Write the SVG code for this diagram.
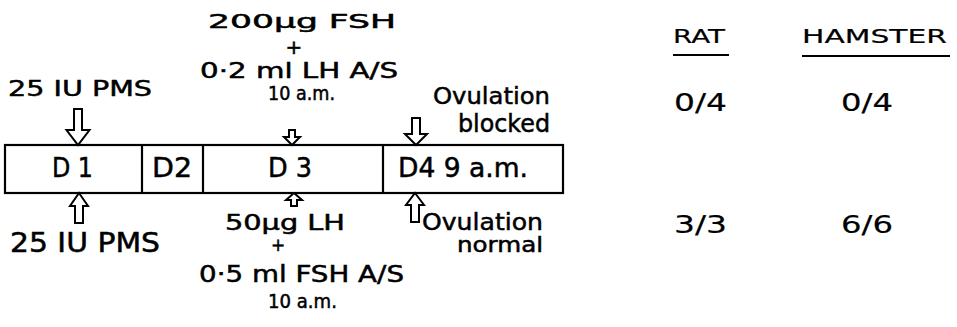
<svg xmlns="http://www.w3.org/2000/svg" width="957" height="327" viewBox="0 0 957 327">
<style>
  text { font-family: "DejaVu Sans", "Liberation Sans", sans-serif; fill: #000; stroke: #000; stroke-width: 0.5; }
  .lt { stroke-width: 0.2; }
  .box { fill: #fff; stroke: #000; stroke-width: 2.2; }
  .div { stroke: #000; stroke-width: 2.2; }
  .arr { fill: #fff; stroke: #000; stroke-width: 2; stroke-linejoin: miter; }
  .ul { stroke: #000; stroke-width: 2; }
</style>
<rect width="957" height="327" fill="#fff"/>

<g id="timeline">
  <rect class="box" x="5" y="145" width="558" height="48"/>
  <line class="div" x1="142" y1="145" x2="142" y2="193"/>
  <line class="div" x1="203" y1="145" x2="203" y2="193"/>
  <line class="div" x1="383" y1="145" x2="383" y2="193"/>
  <text x="52" y="177" font-size="27" textLength="41" lengthAdjust="spacingAndGlyphs">D 1</text>
  <text x="152" y="177" font-size="27" textLength="40" lengthAdjust="spacingAndGlyphs">D2</text>
  <text x="268" y="177" font-size="27" textLength="44" lengthAdjust="spacingAndGlyphs">D 3</text>
  <text x="398" y="177" font-size="27" textLength="130" lengthAdjust="spacingAndGlyphs">D4 9 a.m.</text>
</g>

<g id="top-pms">
  <text x="8" y="96" font-size="22" textLength="144" lengthAdjust="spacingAndGlyphs">25 IU PMS</text>
</g>

<g id="top-fsh">
  <text x="208" y="28" font-size="19" textLength="188" lengthAdjust="spacingAndGlyphs">200µg FSH</text>
  <text x="294" y="53.5" font-size="20" text-anchor="middle">+</text>
  <text x="200" y="78" font-size="21" textLength="198" lengthAdjust="spacingAndGlyphs">0·2 ml LH A/S</text>
  <text x="268" y="99.5" font-size="19" textLength="67" lengthAdjust="spacingAndGlyphs">10 a.m.</text>
</g>

<g id="top-ovulation">
  <text x="433" y="104" font-size="23" textLength="117" lengthAdjust="spacingAndGlyphs">Ovulation</text>
  <text x="458" y="132" font-size="24" textLength="92" lengthAdjust="spacingAndGlyphs">blocked</text>
</g>

<g id="bottom-pms">
  <text x="10" y="252" font-size="26" textLength="150" lengthAdjust="spacingAndGlyphs">25 IU PMS</text>
</g>

<g id="bottom-lh">
  <text x="225" y="230" font-size="21" textLength="120" lengthAdjust="spacingAndGlyphs">50µg LH</text>
  <text x="278" y="251" font-size="17" text-anchor="middle">+</text>
  <text x="199" y="282" font-size="23" textLength="205" lengthAdjust="spacingAndGlyphs">0·5 ml FSH A/S</text>
  <text x="268" y="308" font-size="19" textLength="69" lengthAdjust="spacingAndGlyphs">10 a.m.</text>
</g>

<g id="bottom-ovulation">
  <text x="422" y="230" font-size="23" textLength="121" lengthAdjust="spacingAndGlyphs">Ovulation</text>
  <text x="457" y="252" font-size="21" textLength="86" lengthAdjust="spacingAndGlyphs">normal</text>
</g>

<g id="results">
  <text class="lt" x="673" y="43" font-size="20" textLength="52" lengthAdjust="spacingAndGlyphs">RAT</text>
  <line class="ul" x1="673" y1="55" x2="729" y2="55"/>
  <text class="lt" x="802" y="43" font-size="20" textLength="145" lengthAdjust="spacingAndGlyphs">HAMSTER</text>
  <line class="ul" x1="802" y1="56" x2="950" y2="56"/>
  <text class="lt" x="674" y="111" font-size="25" textLength="53" lengthAdjust="spacingAndGlyphs">0/4</text>
  <text class="lt" x="841" y="111" font-size="25" textLength="52" lengthAdjust="spacingAndGlyphs">0/4</text>
  <text class="lt" x="674" y="233" font-size="25" textLength="53" lengthAdjust="spacingAndGlyphs">3/3</text>
  <text class="lt" x="841" y="233" font-size="25" textLength="52" lengthAdjust="spacingAndGlyphs">6/6</text>
</g>

<g id="connectors">
  <polygon class="arr" points="74,109 82,109 82,130 89.5,130 78,145 66.5,130 74,130"/>
  <polygon class="arr" points="79,193 88,206 83,206 83,223 75,223 75,206 70,206"/>
  <polygon class="arr" points="289,130 295,130 295,137 300,137 292,145 284,137 289,137"/>
  <polygon class="arr" points="294,193 302,200 297,200 297,206 291,206 291,200 286,200"/>
  <polygon class="arr" points="412,118 420,118 420,134 427,134 416,145 405,134 412,134"/>
  <polygon class="arr" points="415,193 424,205 419,205 419,222 411,222 411,205 406,205"/>
</g>
</svg>
